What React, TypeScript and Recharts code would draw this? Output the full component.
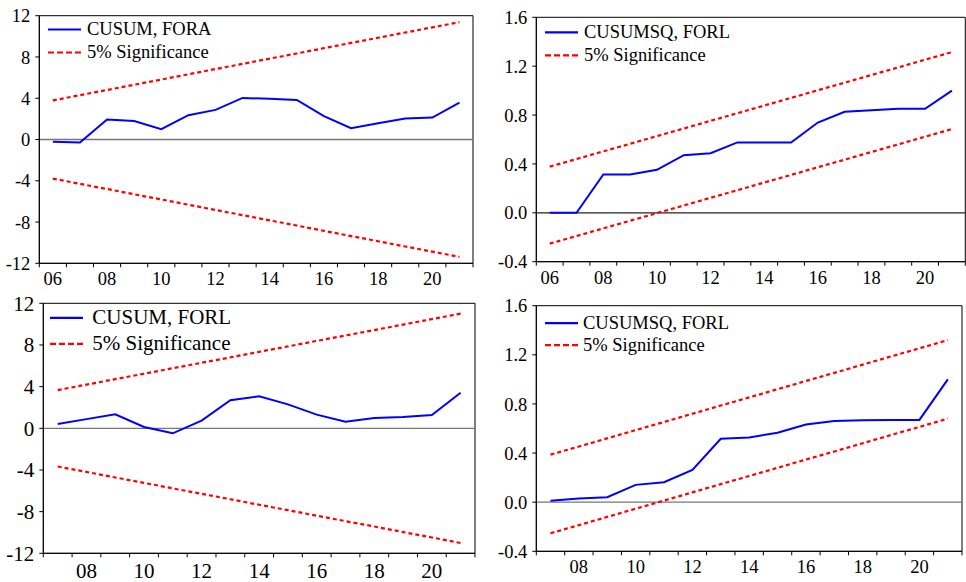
import {
  LineChart,
  Line,
  XAxis,
  YAxis,
  ReferenceLine,
  ReferenceArea,
  Legend,
} from "recharts";

// years on the x axis
const years16 = [2006, 2007, 2008, 2009, 2010, 2011, 2012, 2013, 2014, 2015, 2016, 2017, 2018, 2019, 2020, 2021];
const years15 = [2007, 2008, 2009, 2010, 2011, 2012, 2013, 2014, 2015, 2016, 2017, 2018, 2019, 2020, 2021];
const labelYears16 = [2006, 2008, 2010, 2012, 2014, 2016, 2018, 2020];
const labelYears15 = [2008, 2010, 2012, 2014, 2016, 2018, 2020];

const cusumTicks = [-12, -8, -4, 0, 4, 8, 12];
const cusumsqTicks = [-0.4, 0, 0.4, 0.8, 1.2, 1.6];

// top left: CUSUM, FORA
const cusumFora = [-0.23, -0.3, 1.94, 1.8, 1.0, 2.36, 2.87, 4.03, 3.94, 3.84, 2.26, 1.1, 1.57, 2.03, 2.13, 3.58];
const cusumForaUpper = [3.79, 4.3, 4.8, 5.31, 5.81, 6.32, 6.83, 7.33, 7.84, 8.34, 8.85, 9.36, 9.86, 10.37, 10.87, 11.38];
const cusumForaLower = [-3.79, -4.3, -4.8, -5.31, -5.81, -6.32, -6.83, -7.33, -7.84, -8.34, -8.85, -9.36, -9.86, -10.37, -10.87, -11.38];

// top right: CUSUMSQ, FORL (2006-2021)
const cusumsqTop = [0.0, 0.0, 0.314, 0.314, 0.352, 0.472, 0.488, 0.576, 0.576, 0.576, 0.739, 0.827, 0.84, 0.851, 0.851, 1.0];
const cusumsqTopUpper = [0.378, 0.44, 0.503, 0.565, 0.628, 0.69, 0.753, 0.815, 0.878, 0.94, 1.003, 1.065, 1.128, 1.19, 1.253, 1.315];
const cusumsqTopLower = [-0.252, -0.19, -0.127, -0.065, -0.002, 0.06, 0.123, 0.185, 0.248, 0.31, 0.373, 0.435, 0.498, 0.56, 0.623, 0.685];

// bottom left: CUSUM, FORL
const cusumForl = [0.42, 0.88, 1.34, 0.13, -0.48, 0.74, 2.69, 3.07, 2.3, 1.31, 0.64, 0.99, 1.09, 1.28, 3.42];
const cusumForlUpper = [3.67, 4.19, 4.72, 5.24, 5.77, 6.29, 6.81, 7.34, 7.86, 8.39, 8.91, 9.43, 9.96, 10.48, 11.01];
const cusumForlLower = [-3.67, -4.19, -4.72, -5.24, -5.77, -6.29, -6.81, -7.34, -7.86, -8.39, -8.91, -9.43, -9.96, -10.48, -11.01];

// bottom right: CUSUMSQ, FORL (2007-2021)
const cusumsqBottom = [0.011, 0.03, 0.04, 0.141, 0.163, 0.263, 0.516, 0.527, 0.565, 0.632, 0.662, 0.668, 0.67, 0.67, 1.0];
const cusumsqBottomUpper = [0.387, 0.453, 0.52, 0.587, 0.653, 0.72, 0.787, 0.853, 0.92, 0.987, 1.053, 1.12, 1.187, 1.253, 1.32];
const cusumsqBottomLower = [-0.253, -0.187, -0.12, -0.053, 0.013, 0.08, 0.147, 0.213, 0.28, 0.347, 0.413, 0.48, 0.547, 0.613, 0.68];

const FONT = "Liberation Serif";

function makeRows(years: number[], stat: number[], upper: number[], lower: number[]) {
  return years.map((year, i) => ({ year, stat: stat[i], upper: upper[i], lower: lower[i] }));
}

type PanelProps = {
  left: number;
  top: number;
  plot: { left: number; top: number; right: number; bottom: number };
  years: number[];
  labelYears: number[];
  stat: number[];
  upper: number[];
  lower: number[];
  yTicks: number[];
  decimals: number;
  name: string;
  fontSize: number;
  labelOffset: number;
  legend: { x: number; y: number; row: number; textX: number };
  zeroColor: string;
};

const W = 483;
const H = 291;

function Panel(p: PanelProps) {
  const data = makeRows(p.years, p.stat, p.upper, p.lower);
  const x0 = p.years[0] - 0.5;
  const x1 = p.years[p.years.length - 1] + 0.5;
  const bounds = [...p.years.map((y) => y - 0.5), x1];
  const xTicks = [...bounds, ...p.labelYears].sort((a, b) => a - b);
  const yMin = p.yTicks[0];
  const yMax = p.yTicks[p.yTicks.length - 1];

  const renderTick = (t: any) => {
    const v = t.payload.value;
    if (v % 1 !== 0) {
      return <line x1={t.x} x2={t.x} y1={t.y} y2={t.y + 4} stroke="#000" strokeWidth={1} />;
    }
    return (
      <text
        x={t.x}
        y={t.y + p.labelOffset}
        textAnchor="middle"
        dominantBaseline="central"
        fontSize={p.fontSize}
        fontFamily={FONT}
        fill="#000"
      >
        {String(v).slice(2)}
      </text>
    );
  };

  const lineW = 33;
  const renderLegend = () => (
    <div style={{ fontFamily: FONT, fontSize: p.fontSize, color: "#000" }}>
      {[
        { label: p.name, color: "#0000ff", dash: undefined },
        { label: "5% Significance", color: "#ff0000", dash: "6 3" },
      ].map((e) => (
        <div key={e.label} style={{ display: "flex", alignItems: "center", height: p.legend.row, whiteSpace: "nowrap" }}>
          <svg width={lineW} height={p.legend.row} style={{ display: "block" }}>
            <line x1={0} x2={lineW} y1={p.legend.row / 2} y2={p.legend.row / 2} stroke={e.color} strokeWidth={2.2} strokeDasharray={e.dash} />
          </svg>
          <span style={{ marginLeft: p.legend.textX - p.legend.x - lineW, lineHeight: `${p.legend.row}px` }}>{e.label}</span>
        </div>
      ))}
    </div>
  );

  return (
    <div style={{ position: "absolute", left: p.left, top: p.top, width: W, height: H }}>
      <LineChart
        width={W}
        height={H}
        data={data}
        margin={{ top: p.plot.top, right: W - p.plot.right, bottom: 0, left: 0 }}
      >
        <XAxis
          dataKey="year"
          type="number"
          domain={[x0, x1]}
          ticks={xTicks}
          interval={0}
          height={H - p.plot.bottom}
          tickLine={false}
          tickSize={0}
          tickMargin={0}
          axisLine={{ stroke: "#000" }}
          tick={renderTick}
        />
        <YAxis
          type="number"
          domain={[yMin, yMax]}
          ticks={p.yTicks}
          interval={0}
          width={p.plot.left}
          tickSize={4}
          tickMargin={5}
          axisLine={{ stroke: "#000" }}
          tickLine={{ stroke: "#000" }}
          tick={{ fill: "#000", fontSize: p.fontSize, fontFamily: FONT }}
          tickFormatter={(v: number) => (p.decimals ? v.toFixed(p.decimals) : String(v))}
        />
        <ReferenceLine y={0} stroke={p.zeroColor} strokeWidth={1.3} />
        <ReferenceArea x1={x0} x2={x1} y1={yMin} y2={yMax} fill="none" fillOpacity={0} stroke="#000" strokeWidth={1} />
        <Line type="linear" dataKey="upper" stroke="#ff0000" strokeWidth={2.2} strokeDasharray="4 3" dot={false} isAnimationActive={false} />
        <Line type="linear" dataKey="lower" stroke="#ff0000" strokeWidth={2.2} strokeDasharray="4 3" dot={false} isAnimationActive={false} />
        <Line type="linear" dataKey="stat" stroke="#0000ff" strokeWidth={2} dot={false} isAnimationActive={false} />
        <Legend
          layout="vertical"
          align="center"
          verticalAlign="middle"
          content={renderLegend}
          wrapperStyle={{ left: p.legend.x, top: p.legend.y - p.legend.row / 2, width: "auto", right: "auto", bottom: "auto" }}
        />
      </LineChart>
    </div>
  );
}

export default function App() {
  return (
    <div style={{ position: "absolute", left: 0, top: 0, width: 966, height: 582, background: "#fff", fontFamily: FONT }}>
      <Panel
        left={0}
        top={0}
        plot={{ left: 39.3, top: 15.7, right: 473, bottom: 263.3 }}
        years={years16}
        labelYears={labelYears16}
        stat={cusumFora}
        upper={cusumForaUpper}
        lower={cusumForaLower}
        yTicks={cusumTicks}
        decimals={0}
        name="CUSUM, FORA"
        fontSize={18.5}
        labelOffset={16}
        legend={{ x: 48, y: 29, row: 23, textX: 87 }}
        zeroColor="#777"
      />
      <Panel
        left={483}
        top={0}
        plot={{ left: 53.3, top: 17.3, right: 482.3, bottom: 261.7 }}
        years={years16}
        labelYears={labelYears16}
        stat={cusumsqTop}
        upper={cusumsqTopUpper}
        lower={cusumsqTopLower}
        yTicks={cusumsqTicks}
        decimals={1}
        name="CUSUMSQ, FORL"
        fontSize={18.5}
        labelOffset={16}
        legend={{ x: 62.3, y: 32.3, row: 22.7, textX: 101 }}
        zeroColor="#222"
      />
      <Panel
        left={0}
        top={291}
        plot={{ left: 43.3, top: 12.3, right: 475, bottom: 262.3 }}
        years={years15}
        labelYears={labelYears15}
        stat={cusumForl}
        upper={cusumForlUpper}
        lower={cusumForlLower}
        yTicks={cusumTicks}
        decimals={0}
        name="CUSUM, FORL"
        fontSize={21}
        labelOffset={17.7}
        legend={{ x: 50, y: 26.7, row: 25.7, textX: 92.3 }}
        zeroColor="#777"
      />
      <Panel
        left={483}
        top={291}
        plot={{ left: 53.3, top: 14.7, right: 479, bottom: 260.3 }}
        years={years15}
        labelYears={labelYears15}
        stat={cusumsqBottom}
        upper={cusumsqBottomUpper}
        lower={cusumsqBottomLower}
        yTicks={cusumsqTicks}
        decimals={1}
        name="CUSUMSQ, FORL"
        fontSize={18.5}
        labelOffset={15.7}
        legend={{ x: 62.3, y: 31.7, row: 22.3, textX: 100 }}
        zeroColor="#777"
      />
    </div>
  );
}
